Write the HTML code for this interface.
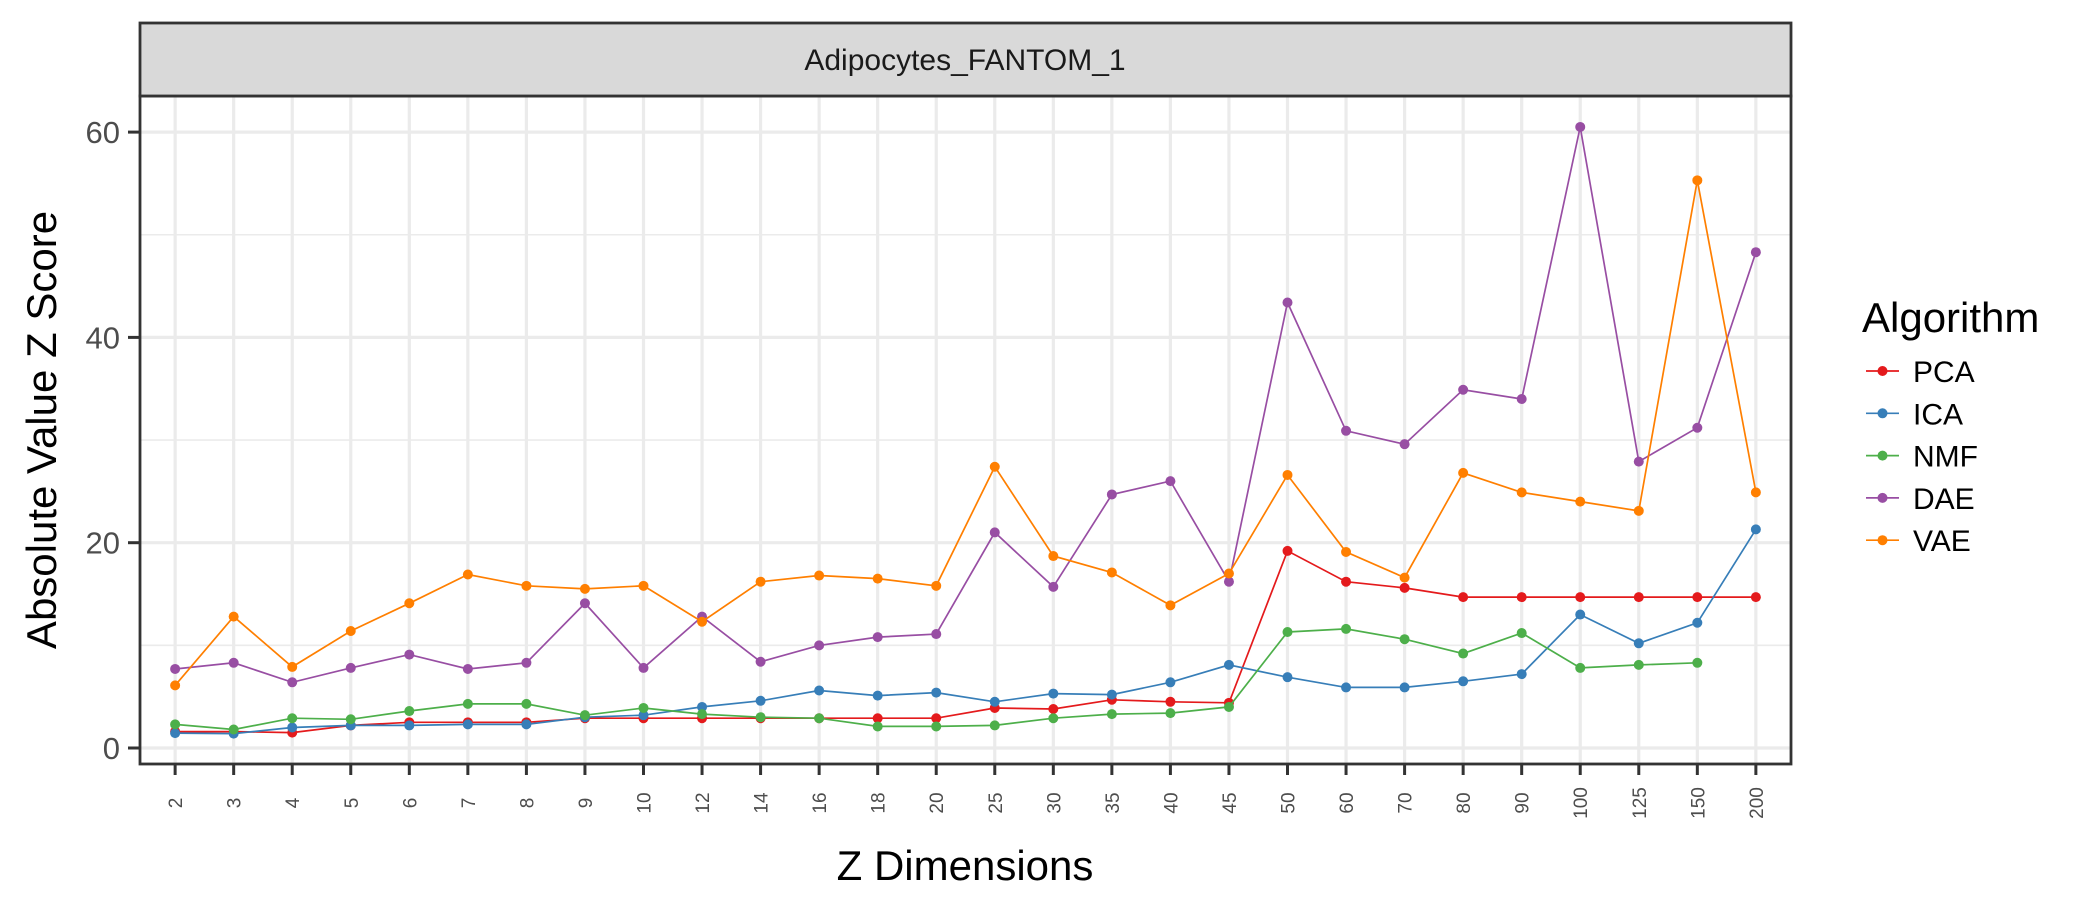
<!DOCTYPE html>
<html><head><meta charset="utf-8"><style>
html,body{margin:0;padding:0;background:#fff;}
svg{display:block;font-family:"Liberation Sans",Arial,sans-serif;}
</style></head><body>
<svg id="chart" width="2100" height="900" viewBox="0 0 2100 900" xmlns="http://www.w3.org/2000/svg">
<rect x="0" y="0" width="2100" height="900" fill="#fff"/>
<g id="grid"></g>
<g id="series"></g>
<rect x="140" y="96" width="1651" height="668" fill="none" stroke="#333" stroke-width="2.8"/>
<rect x="140" y="23" width="1651" height="73" fill="#D9D9D9" stroke="#333" stroke-width="2.8"/>
<text x="965" y="70" font-size="30" text-anchor="middle" fill="#1a1a1a">Adipocytes_FANTOM_1</text>
<g id="axes"></g>
<text transform="translate(56,430) rotate(-90)" font-size="42" text-anchor="middle" fill="#000">Absolute Value Z Score</text>
<text x="965" y="880" font-size="42" text-anchor="middle" fill="#000">Z Dimensions</text>
<g id="legend">
<text x="1862" y="332" font-size="42" fill="#000">Algorithm</text>
</g>
</svg>
<script>
const categories = ["2","3","4","5","6","7","8","9","10","12","14","16","18","20","25","30","35","40","45","50","60","70","80","90","100","125","150","200"];
const yTicks = [0,20,40,60];
const seriesNames = ["PCA","ICA","NMF","DAE","VAE"];
const seriesColors = ["#E41A1C","#377EB8","#4DAF4A","#984EA3","#FF7F00"];
const pcaValues = [1.6,1.6,1.5,2.2,2.5,2.5,2.5,2.9,2.9,2.9,2.9,2.9,2.9,2.9,3.9,3.8,4.7,4.5,4.4,19.2,16.2,15.6,14.7,14.7,14.7,14.7,14.7,14.7];
const icaValues = [1.45,1.4,2.0,2.2,2.2,2.3,2.3,3.0,3.2,4.0,4.6,5.6,5.1,5.4,4.5,5.3,5.2,6.4,8.1,6.9,5.9,5.9,6.5,7.2,13.0,10.2,12.2,21.3];
const nmfValues = [2.3,1.8,2.9,2.8,3.6,4.3,4.3,3.2,3.9,3.3,3.0,2.9,2.1,2.1,2.2,2.9,3.3,3.4,4.0,11.3,11.6,10.6,9.2,11.2,7.8,8.1,8.3,null];
const daeValues = [7.7,8.3,6.4,7.8,9.1,7.7,8.3,14.1,7.8,12.8,8.4,10.0,10.8,11.1,21.0,15.7,24.7,26.0,16.2,43.4,30.9,29.6,34.9,34.0,60.5,27.9,31.2,48.3];
const vaeValues = [6.1,12.8,7.9,11.4,14.1,16.9,15.8,15.5,15.8,12.3,16.2,16.8,16.5,15.8,27.4,18.7,17.1,13.9,17.0,26.6,19.1,16.6,26.8,24.9,24.0,23.1,55.3,24.9];
const allSeries = [pcaValues,icaValues,nmfValues,daeValues,vaeValues];

const NS = "http://www.w3.org/2000/svg";
const PL = 140, PR = 1791, PT = 96, PB = 764;
const step = (PR - PL) / (categories.length - 1 + 1.2);
function xScale(i){ return PL + 0.6*step + i*step; }
function yScale(v){ return 748 - v*(205.3/20); }
function mk(tag, attrs, parent){ const e=document.createElementNS(NS,tag); for(const k in attrs) e.setAttribute(k,attrs[k]); parent.appendChild(e); return e; }

const grid = document.getElementById('grid');
for (let k=0;k<yTicks.length;k++){
  const mv = yTicks[k]+10;
  const y = yScale(mv);
  if (y > PT) { const l = mk('line',{x1:PL,x2:PR,y1:y,y2:y,stroke:'#EBEBEB','stroke-width':1.6},grid);
    
     }
}
yTicks.forEach(v=>{
  const y=yScale(v);
  const l=mk('line',{x1:PL,x2:PR,y1:y,y2:y,stroke:'#EBEBEB','stroke-width':3.2},grid);
  
  
});
categories.forEach((c,i)=>{
  const x=xScale(i);
  const l=mk('line',{x1:x,x2:x,y1:PT,y2:PB,stroke:'#EBEBEB','stroke-width':3.2},grid);
  
  
});

const axes = document.getElementById('axes');
yTicks.forEach(v=>{
  const y=yScale(v);
  const t=mk('line',{x1:128,x2:140,y1:y,y2:y,stroke:'#333','stroke-width':3},axes);
  
  
  const tx=mk('text',{x:120,y:y+11,'font-size':31,'text-anchor':'end',fill:'#4d4d4d'},axes);
  tx.textContent=String(v);
  
  
});
categories.forEach((c,i)=>{
  const x=xScale(i);
  const t=mk('line',{x1:x,x2:x,y1:PB,y2:PB+11,stroke:'#333','stroke-width':3},axes);
  
  
  const tx=mk('text',{transform:`translate(${x+7},803) rotate(-90)`,'font-size':19,'text-anchor':'middle',fill:'#4d4d4d'},axes);
  tx.textContent=c;
  
  
});

const sg = document.getElementById('series');
allSeries.forEach((vals,s)=>{
  const col=seriesColors[s];
  const g=mk('g',{},sg);
  
  
  let d='', pen=false;
  vals.forEach((v,i)=>{
    if(v===null){pen=false;return;}
    d += (pen?'L':'M')+xScale(i).toFixed(1)+' '+yScale(v).toFixed(1)+' ';
    pen=true;
  });
  const p=mk('path',{d:d,fill:'none',stroke:col,'stroke-width':1.7},g);
  
  
  vals.forEach((v,i)=>{
    if(v===null) return;
    const c=mk('circle',{cx:xScale(i),cy:yScale(v),r:5,fill:col},g);
    
    
  });
});

const lg=document.getElementById('legend');
seriesNames.forEach((n,s)=>{
  const y=371+s*42.3;
  const g=mk('g',{},lg);
  
  
  mk('line',{x1:1866,x2:1899,y1:y,y2:y,stroke:seriesColors[s],'stroke-width':1.7},g);
  mk('circle',{cx:1882.5,cy:y,r:5,fill:seriesColors[s]},g);
  const t=mk('text',{x:1913,y:y+11,'font-size':30,fill:'#000'},g);
  t.textContent=n;
});
</script>
</body></html>
